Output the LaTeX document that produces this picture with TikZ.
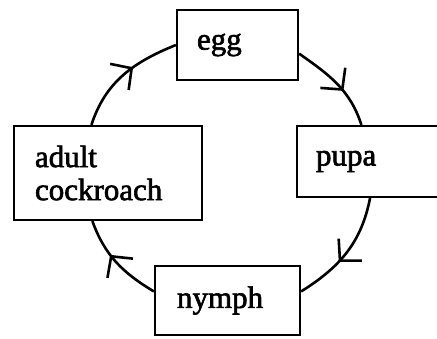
\documentclass[tikz,border=0pt]{standalone}
\usepackage{fontspec}
\setmainfont{Liberation Serif}
\newfontfamily\stagefont{Liberation Serif}[FakeBold=2]
\usetikzlibrary{arrows.meta,decorations.markings}

\begin{document}
\begin{tikzpicture}[x=1pt,y=1pt,
   stage/.style={draw,line width=2.2pt,rectangle,inner ysep=0pt,align=left,font=\stagefont\fontsize{31}{33}\selectfont},
   lifearrow/.style={line width=2.6pt,decoration={markings,mark=at position 0.6 with {\arrow{Straight Barb[length=15pt,width=32pt,line width=2.6pt]}}},postaction={decorate}}]
   \useasboundingbox (0,0) rectangle (437,338);
   \node[stage,minimum height=70pt,inner xsep=20pt,text width=81pt](egg) at (237.5,293){egg};
   \node[stage,minimum height=71pt,inner xsep=19pt,text width=125pt](pupa) at (378.5,176.5){pupa};
   \node[stage,minimum height=69pt,inner xsep=22pt,text width=101pt](nymph) at (227.5,37.5){nymph};
   \node[stage,minimum height=94pt,inner xsep=21pt,text width=146pt](adult) at (108,165){adult\\cockroach};
   \draw[lifearrow] (adult.109) to[out=72,in=202] (egg.west);
   \draw[lifearrow] (egg.-8) to[out=-35,in=108] (pupa.115);
   \draw[lifearrow] (pupa.-103) to[out=-101,in=32] (nymph.7);
   \draw[lifearrow] (nymph.173) to[out=149,in=290] (adult.-108);
\end{tikzpicture}
\end{document}
